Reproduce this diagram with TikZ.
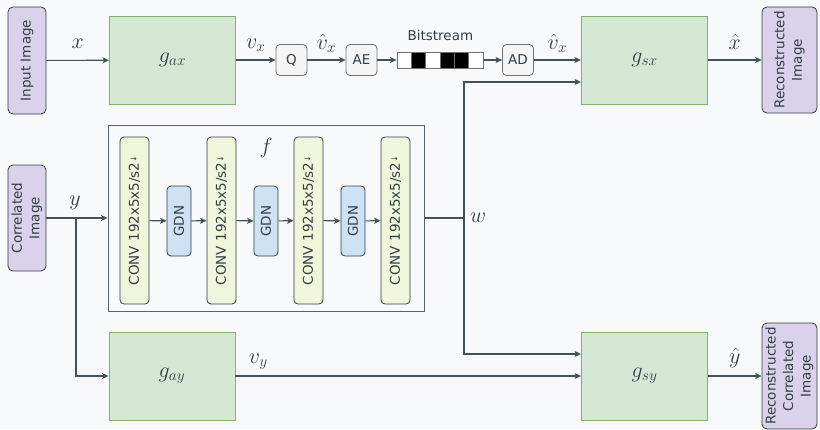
\documentclass[tikz,border=0pt]{standalone}
\usepackage{fix-cm}
\usepackage{fontspec}
\setmainfont{DejaVu Sans}
\usetikzlibrary{arrows.meta,positioning}
\definecolor{pagebg}{RGB}{248,249,250}
\definecolor{inkgrey}{RGB}{50,62,68}
\definecolor{wiregrey}{RGB}{68,82,88}
\definecolor{frameg}{RGB}{88,98,104}
\definecolor{imgpurple}{RGB}{218,210,234}
\definecolor{codecfill}{RGB}{213,232,212}
\definecolor{codecline}{RGB}{130,179,102}
\definecolor{convlime}{RGB}{239,246,219}
\definecolor{gdnblue}{RGB}{206,226,246}
\definecolor{opfill}{RGB}{245,245,245}
\definecolor{opline}{RGB}{112,112,112}

\newcommand{\convlabel}{CONV 192x5x5/s2\raisebox{2.5pt}{\fontsize{8}{8}\selectfont ↓}}

\begin{document}
\begin{tikzpicture}[x=1pt, y=-1pt,
  every node/.style={text=inkgrey, font=\fontsize{13.5}{17.5}\selectfont},
  imgbox/.style={rotate=90, draw=inkgrey, fill=imgpurple, rounded corners=5pt, line width=0.8pt, minimum height=38pt, inner sep=0pt, align=center},
  codec/.style={draw=codecline, fill=codecfill, line width=0.9pt, minimum width=126pt, minimum height=88pt, inner sep=0pt, font=\fontsize{22}{26}\selectfont},
  opbox/.style={draw=opline, fill=opfill, rounded corners=4pt, line width=0.8pt, minimum size=31pt, inner sep=0pt},
  bit/.style={draw=opline, line width=0.8pt, minimum width=14.33pt, minimum height=16pt, inner sep=0pt},
  conv/.style={rotate=90, draw=inkgrey, fill=convlime, rounded corners=4pt, line width=0.8pt, minimum width=167pt, minimum height=29pt, inner sep=0pt},
  gdn/.style={rotate=90, draw=inkgrey, fill=gdnblue, rounded corners=4pt, line width=0.8pt, minimum width=70pt, minimum height=24pt, inner sep=0pt},
  lbl/.style={font=\fontsize{22}{26}\selectfont, inner sep=2pt},
  wire/.style={draw=wiregrey, line width=1.1pt},
  arr/.style={wire, -{Stealth[length=6.5pt, width=6pt, inset=1.5pt]}}]
\useasboundingbox[fill=pagebg] (0,0) rectangle (820,429);

% Top branch: encoder, quantiser, entropy coding
\node[imgbox, minimum width=107pt] (inimg) at (27,60.5) {Input Image};
\node[codec] (gax) at (172.5,60) {$g_{ax}$};
\node[opbox] (q) at (291.5,60) {Q};
\node[opbox] (ae) at (361.5,60) {AE};
\node[bit, fill=white] (bs1) at (404.2,60) {};
\node[bit, fill=black] (bs2) at (418.5,60) {};
\node[bit, fill=white] (bs3) at (432.8,60) {};
\node[bit, fill=black] (bs4) at (447.2,60) {};
\node[bit, fill=black] (bs5) at (461.5,60) {};
\node[bit, fill=white] (bs6) at (475.8,60) {};
\node[anchor=base, yshift=11pt] (bslbl) at (bs3.north east) {Bitstream};
\node[opbox] (ad) at (518,60) {AD};
\node[codec] (gsx) at (644.5,60) {$g_{sx}$};
\node[imgbox, minimum width=106pt, minimum height=55pt] (recx) at (789.5,60) {Reconstructed\\Image};

\draw[arr] (inimg) -- node[lbl, anchor=base, yshift=12pt] (xlbl) {$x$} (gax);
\draw[arr] (gax) -- node[lbl, anchor=base, yshift=12pt] (vxlbl) {$v_x$} (q);
\draw[arr] (q) -- node[lbl, anchor=base, yshift=11pt] (vqlbl) {$\hat{v}_x$} (ae);
\draw[arr] (ae) -- (bs1);
\draw[arr] (bs6) -- (ad);
\draw[arr] (ad) -- node[lbl, anchor=base, yshift=11pt] (vdlbl) {$\hat{v}_x$} (gsx);
\draw[arr] (gsx) -- node[lbl, anchor=base, yshift=11pt] (xhlbl) {$\hat{x}$} (recx);

% Side information network f
\node[imgbox, minimum width=106pt] (corr) at (27,218) {Correlated\\Image};
\node[draw=frameg, line width=1pt, minimum width=316pt, minimum height=186pt] (fblk) at (266,218) {};
\node[lbl, anchor=base] (flbl) at (266,153) {$f$};
\node[conv] (c1) at (134.5,220.5) {\convlabel};
\node[gdn] (n1) at (179,221) {GDN};
\node[conv] (c2) at (221.5,220.5) {\convlabel};
\node[gdn] (n2) at (266,221) {GDN};
\node[conv] (c3) at (308.5,220.5) {\convlabel};
\node[gdn] (n3) at (353,221) {GDN};
\node[conv] (c4) at (395.5,220.5) {\convlabel};
\draw[arr] (c1) -- (n1);
\draw[arr] (n1) -- (c2);
\draw[arr] (c2) -- (n2);
\draw[arr] (n2) -- (c3);
\draw[arr] (c3) -- (n3);
\draw[arr] (n3) -- (c4);

\coordinate (ybr) at (76,218);
\coordinate (wj) at (464,218);
\draw[wire] (corr) -- (ybr);
\node[lbl, anchor=base] (ylbl) at (75,205) {$y$};
\draw[arr] (ybr) -- (fblk);
\draw[wire] (fblk) -- (wj);
\node[lbl, right=4pt of wj] (wlbl) {$w$};

% Bottom branch
\node[codec] (gay) at (172,376) {$g_{ay}$};
\node[codec] (gsy) at (644.5,376) {$g_{sy}$};
\node[imgbox, minimum width=106pt, minimum height=55pt] (recy) at (789.5,376) {Reconstructed\\Correlated\\Image};

\draw[arr] (ybr) |- (gay);
\draw[arr] (wj) |- ([yshift=-22pt]gsx.west);
\draw[arr] (wj) |- ([yshift=22pt]gsy.west);
\draw[arr] (gay) -- node[lbl, pos=0.066, anchor=base, yshift=13pt] (vylbl) {$v_y$} (gsy);
\draw[arr] (gsy) -- node[lbl, anchor=base, yshift=13pt] (yhlbl) {$\hat{y}$} (recy);
\end{tikzpicture}
\end{document}
